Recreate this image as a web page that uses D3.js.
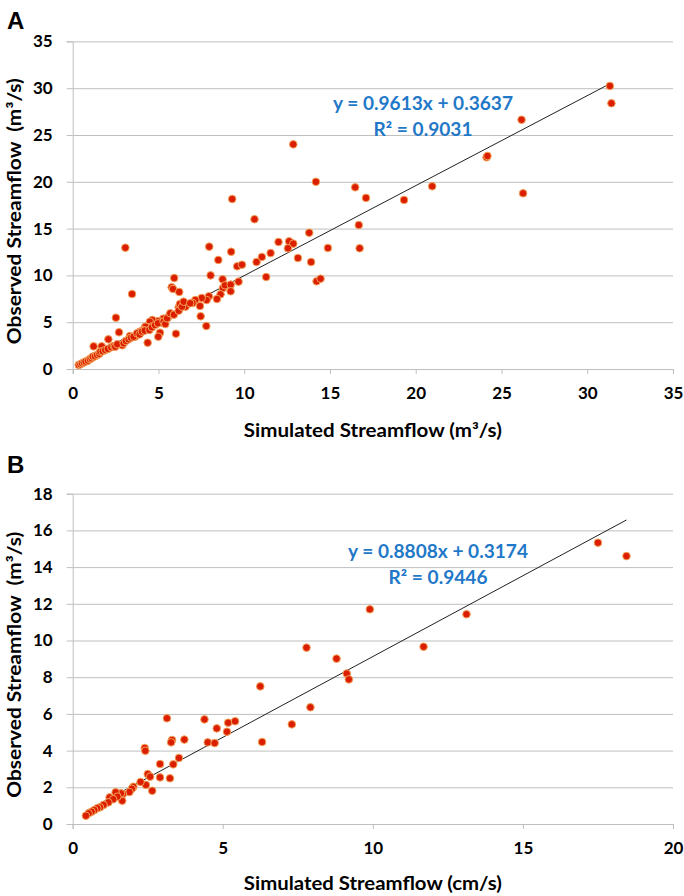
<!DOCTYPE html>
<html>
<head>
<meta charset="utf-8">
<script src="https://cdn.jsdelivr.net/npm/d3@7"></script>
<style>
  body { margin: 0; background: #fff; }
  svg { display: block; }
</style>
</head>
<body>
<div id="chart"></div>
<script>
// panel A: simulated vs observed streamflow (m3/s)
const simA = [31.32, 31.41, 26.17, 24.13, 24.18, 26.26, 20.96, 19.32, 17.1, 16.47, 14.18, 12.86, 9.3, 10.6,
  16.68, 16.73, 14.88, 13.79, 13.9, 13.13, 14.22, 14.45, 12.0, 12.62, 12.86, 12.55, 11.54, 11.03, 10.72, 11.28,
  9.59, 9.87, 7.96, 9.24, 3.07, 8.49, 8.04, 5.92, 5.77, 5.85, 6.21, 3.46, 8.74, 9.67, 8.76, 8.88, 9.21, 9.21,
  8.62, 8.41, 7.94, 7.81, 7.52, 7.42, 7.15, 6.99, 6.43, 6.58, 6.18, 6.25, 7.46, 7.79, 6.02, 5.65, 5.54, 5.28,
  5.13, 5.32, 4.95, 4.64, 5.09, 4.99, 4.37, 4.5, 4.56, 4.45, 4.23, 2.52, 2.7, 2.08, 1.22, 1.69, 3.34, 3.63,
  2.89, 3.92, 4.12,
  0.35, 0.45, 0.54, 0.65, 0.75, 0.89, 1.0, 1.1, 1.17, 1.3, 1.42, 1.55, 1.61, 1.75, 1.9, 2.05, 2.25, 2.4, 2.48,
  2.6, 2.97, 3.1, 3.26, 3.4, 3.55, 3.75, 3.9, 4.04, 4.2, 4.47, 4.62, 4.8, 4.97, 5.3, 5.4, 5.5, 5.69, 5.9, 6.18,
  6.37, 6.47, 6.85];
const obsA = [30.24, 28.39, 26.63, 22.62, 22.76, 18.77, 19.52, 18.06, 18.28, 19.41, 20.0, 24.0, 18.16, 16.0,
  15.38, 12.9, 12.93, 14.56, 11.43, 11.86, 9.37, 9.65, 13.57, 13.64, 13.39, 12.9, 12.39, 11.97, 11.43, 9.83,
  10.97, 11.14, 13.07, 12.53, 12.96, 11.65, 10.0, 9.72, 8.73, 8.55, 8.23, 8.01, 9.58, 9.33, 8.65, 8.94, 9.01, 8.3,
  7.98, 7.48, 7.77, 7.37, 7.59, 6.73, 7.37, 7.05, 7.12, 6.66, 6.59, 6.94, 5.63, 4.59, 3.77, 5.77, 5.48, 5.38,
  5.05, 4.88, 5.1, 5.24, 3.88, 3.45, 2.81, 5.05, 4.52, 4.24, 4.52, 5.48, 3.92, 3.17, 2.42, 2.42, 3.53, 3.45,
  2.53, 3.99, 4.17,
  0.43, 0.5, 0.61, 0.7, 0.8, 0.89, 1.05, 1.15, 1.32, 1.35, 1.5, 1.62, 1.85, 1.9, 2.03, 2.15, 2.32, 2.45, 2.38,
  2.65, 2.75, 3.0, 3.17, 3.35, 3.45, 3.81, 3.7, 3.99, 4.1, 4.17, 4.45, 4.7, 4.88, 5.05, 4.81, 5.42, 5.95, 5.8,
  6.23, 6.66, 7.19, 7.02];

// panel B: simulated vs observed streamflow (cm/s)
const simB = [17.5, 18.45, 9.9, 13.12, 7.79, 11.69, 8.79, 9.13, 9.2, 6.25, 7.92, 7.3, 6.31, 3.14, 4.39, 5.18,
  5.41, 5.14, 4.8, 4.5, 4.73, 3.72, 3.31, 3.28, 2.4, 2.42, 3.54, 3.35, 2.91, 2.91, 3.24, 2.5, 2.58, 2.44, 2.65,
  2.26, 2.02, 1.97, 1.89, 1.65, 1.67, 1.61, 1.43, 1.49, 1.23, 1.35, 1.19, 1.03, 0.91, 0.82, 0.72, 0.63, 0.53, 0.44];
const obsB = [15.33, 14.6, 11.7, 11.43, 9.61, 9.66, 9.01, 8.2, 7.88, 7.5, 6.36, 5.43, 4.47, 5.76, 5.7, 5.52,
  5.6, 5.03, 5.21, 4.45, 4.41, 4.6, 4.58, 4.45, 4.14, 3.99, 3.6, 3.25, 3.27, 2.54, 2.49, 2.72, 2.58, 2.13, 1.81,
  2.29, 2.03, 1.92, 1.74, 1.27, 1.63, 1.67, 1.73, 1.49, 1.45, 1.35, 1.18, 1.04, 0.91, 0.86, 0.76, 0.67, 0.58, 0.45];

// axis ticks
const xTicksA = [0, 5, 10, 15, 20, 25, 30, 35];
const yTicksA = [0, 5, 10, 15, 20, 25, 30, 35];
const xTicksB = [0, 5, 10, 15, 20];
const yTicksB = [0, 2, 4, 6, 8, 10, 12, 14, 16, 18];

// linear fits (slope, intercept) and their labels
const fitA = [0.9613, 0.3637];
const fitB = [0.8808, 0.3174];
const eqA = ["y = 0.9613x + 0.3637", "R² = 0.9031"];
const eqB = ["y = 0.8808x + 0.3174", "R² = 0.9446"];

const width = 684, height = 896;
const font = "Lato, 'Open Sans', sans-serif";
const gridColor = "#bfbfbf";

const svg = d3.select("#chart")
  .append("svg")
    .attr("width", width)
    .attr("height", height)
    .style("font-family", font);

function drawPanel(p) {
  const g = svg.append("g");

  const x = d3.scaleLinear()
    .domain([0, p.xTicks[p.xTicks.length - 1]])
    .range([72.7, 673]);
  const y = d3.scaleLinear()
    .domain([0, p.yTicks[p.yTicks.length - 1]])
    .range([p.bottom, p.top]);

  // horizontal gridlines
  g.append("g")
    .attr("transform", `translate(${x(0)},0)`)
    .call(d3.axisLeft(y).tickValues(p.yTicks).tickSize(-(x.range()[1] - x(0))).tickFormat(""))
    .call(a => a.select(".domain").remove())
    .call(a => a.selectAll("line").attr("stroke", gridColor));

  // y axis with outside tick marks
  g.append("g")
    .attr("transform", `translate(${x(0)},0)`)
    .call(d3.axisLeft(y).tickValues(p.yTicks).tickSize(6).tickPadding(14))
    .call(a => a.select(".domain").attr("stroke", gridColor))
    .call(a => a.selectAll("line").attr("stroke", gridColor))
    .call(a => a.selectAll("text")
      .attr("fill", "#000")
      .style("font-family", font)
      .style("font-size", "17px")
      .style("font-weight", "bold"));

  // x axis
  g.append("g")
    .attr("transform", `translate(0,${y(0)})`)
    .call(d3.axisBottom(x).tickValues(p.xTicks).tickSize(5).tickPadding(13))
    .call(a => a.select(".domain").attr("stroke", gridColor))
    .call(a => a.selectAll("line").attr("stroke", gridColor))
    .call(a => a.selectAll("text")
      .attr("fill", "#000")
      .style("font-family", font)
      .style("font-size", "17px")
      .style("font-weight", "bold"));

  // trend line from smallest to largest simulated value
  const x0 = d3.min(p.sim), x1 = d3.max(p.sim);
  g.append("line")
    .attr("x1", x(x0))
    .attr("y1", y(p.fit[0] * x0 + p.fit[1]))
    .attr("x2", x(x1))
    .attr("y2", y(p.fit[0] * x1 + p.fit[1]))
    .attr("stroke", "#222")
    .attr("stroke-width", 1);

  // points
  g.selectAll("circle")
    .data(d3.zip(p.sim, p.obs))
    .join("circle")
      .attr("cx", d => x(d[0]))
      .attr("cy", d => y(d[1]))
      .attr("r", 3.8)
      .attr("fill", "#dc1e00")
      .attr("stroke", "#f2a25a")
      .attr("stroke-width", 1);

  // equation label (stretched like the original)
  g.selectAll("text.eq")
    .data(p.eq)
    .join("text")
      .attr("class", "eq")
      .attr("x", p.eqX)
      .attr("y", (d, i) => p.eqY + i * 26)
      .attr("text-anchor", "middle")
      .attr("textLength", (d, i) => i === 0 ? 180 : 99)
      .attr("lengthAdjust", "spacingAndGlyphs")
      .attr("fill", "#1f78c8")
      .style("font-size", "18px")
      .style("font-weight", "bold")
      .text(d => d);

  // panel letter
  g.append("text")
    .attr("x", 7)
    .attr("y", p.letterY)
    .style("font-family", "'Liberation Sans', Arial, sans-serif")
    .style("font-size", "24px")
    .style("font-weight", "bold")
    .text(p.letter);

  // axis titles
  g.append("text")
    .attr("x", (x(0) + x.range()[1]) / 2)
    .attr("y", p.xTitleY)
    .attr("text-anchor", "middle")
    .attr("textLength", 258)
    .attr("lengthAdjust", "spacingAndGlyphs")
    .style("font-size", "18px")
    .style("font-weight", "bold")
    .text(p.xTitle);

  g.append("text")
    .attr("transform", `translate(21,${(p.top + p.bottom) / 2 + 6}) rotate(-90)`)
    .attr("text-anchor", "middle")
    .attr("textLength", 266)
    .attr("lengthAdjust", "spacingAndGlyphs")
    .style("font-size", "18px")
    .style("font-weight", "bold")
    .style("white-space", "pre")
    .text("Observed Streamflow  (m³/s)");
}

drawPanel({
  sim: simA, obs: obsA, fit: fitA, eq: eqA,
  xTicks: xTicksA, yTicks: yTicksA,
  top: 41.4, bottom: 369,
  eqX: 423, eqY: 110,
  letter: "A", letterY: 29,
  xTitle: "Simulated Streamflow (m³/s)", xTitleY: 437
});

drawPanel({
  sim: simB, obs: obsB, fit: fitB, eq: eqB,
  xTicks: xTicksB, yTicks: yTicksB,
  top: 493.7, bottom: 824,
  eqX: 438, eqY: 558,
  letter: "B", letterY: 473,
  xTitle: "Simulated Streamflow (cm/s)", xTitleY: 890
});
</script>
</body>
</html>
